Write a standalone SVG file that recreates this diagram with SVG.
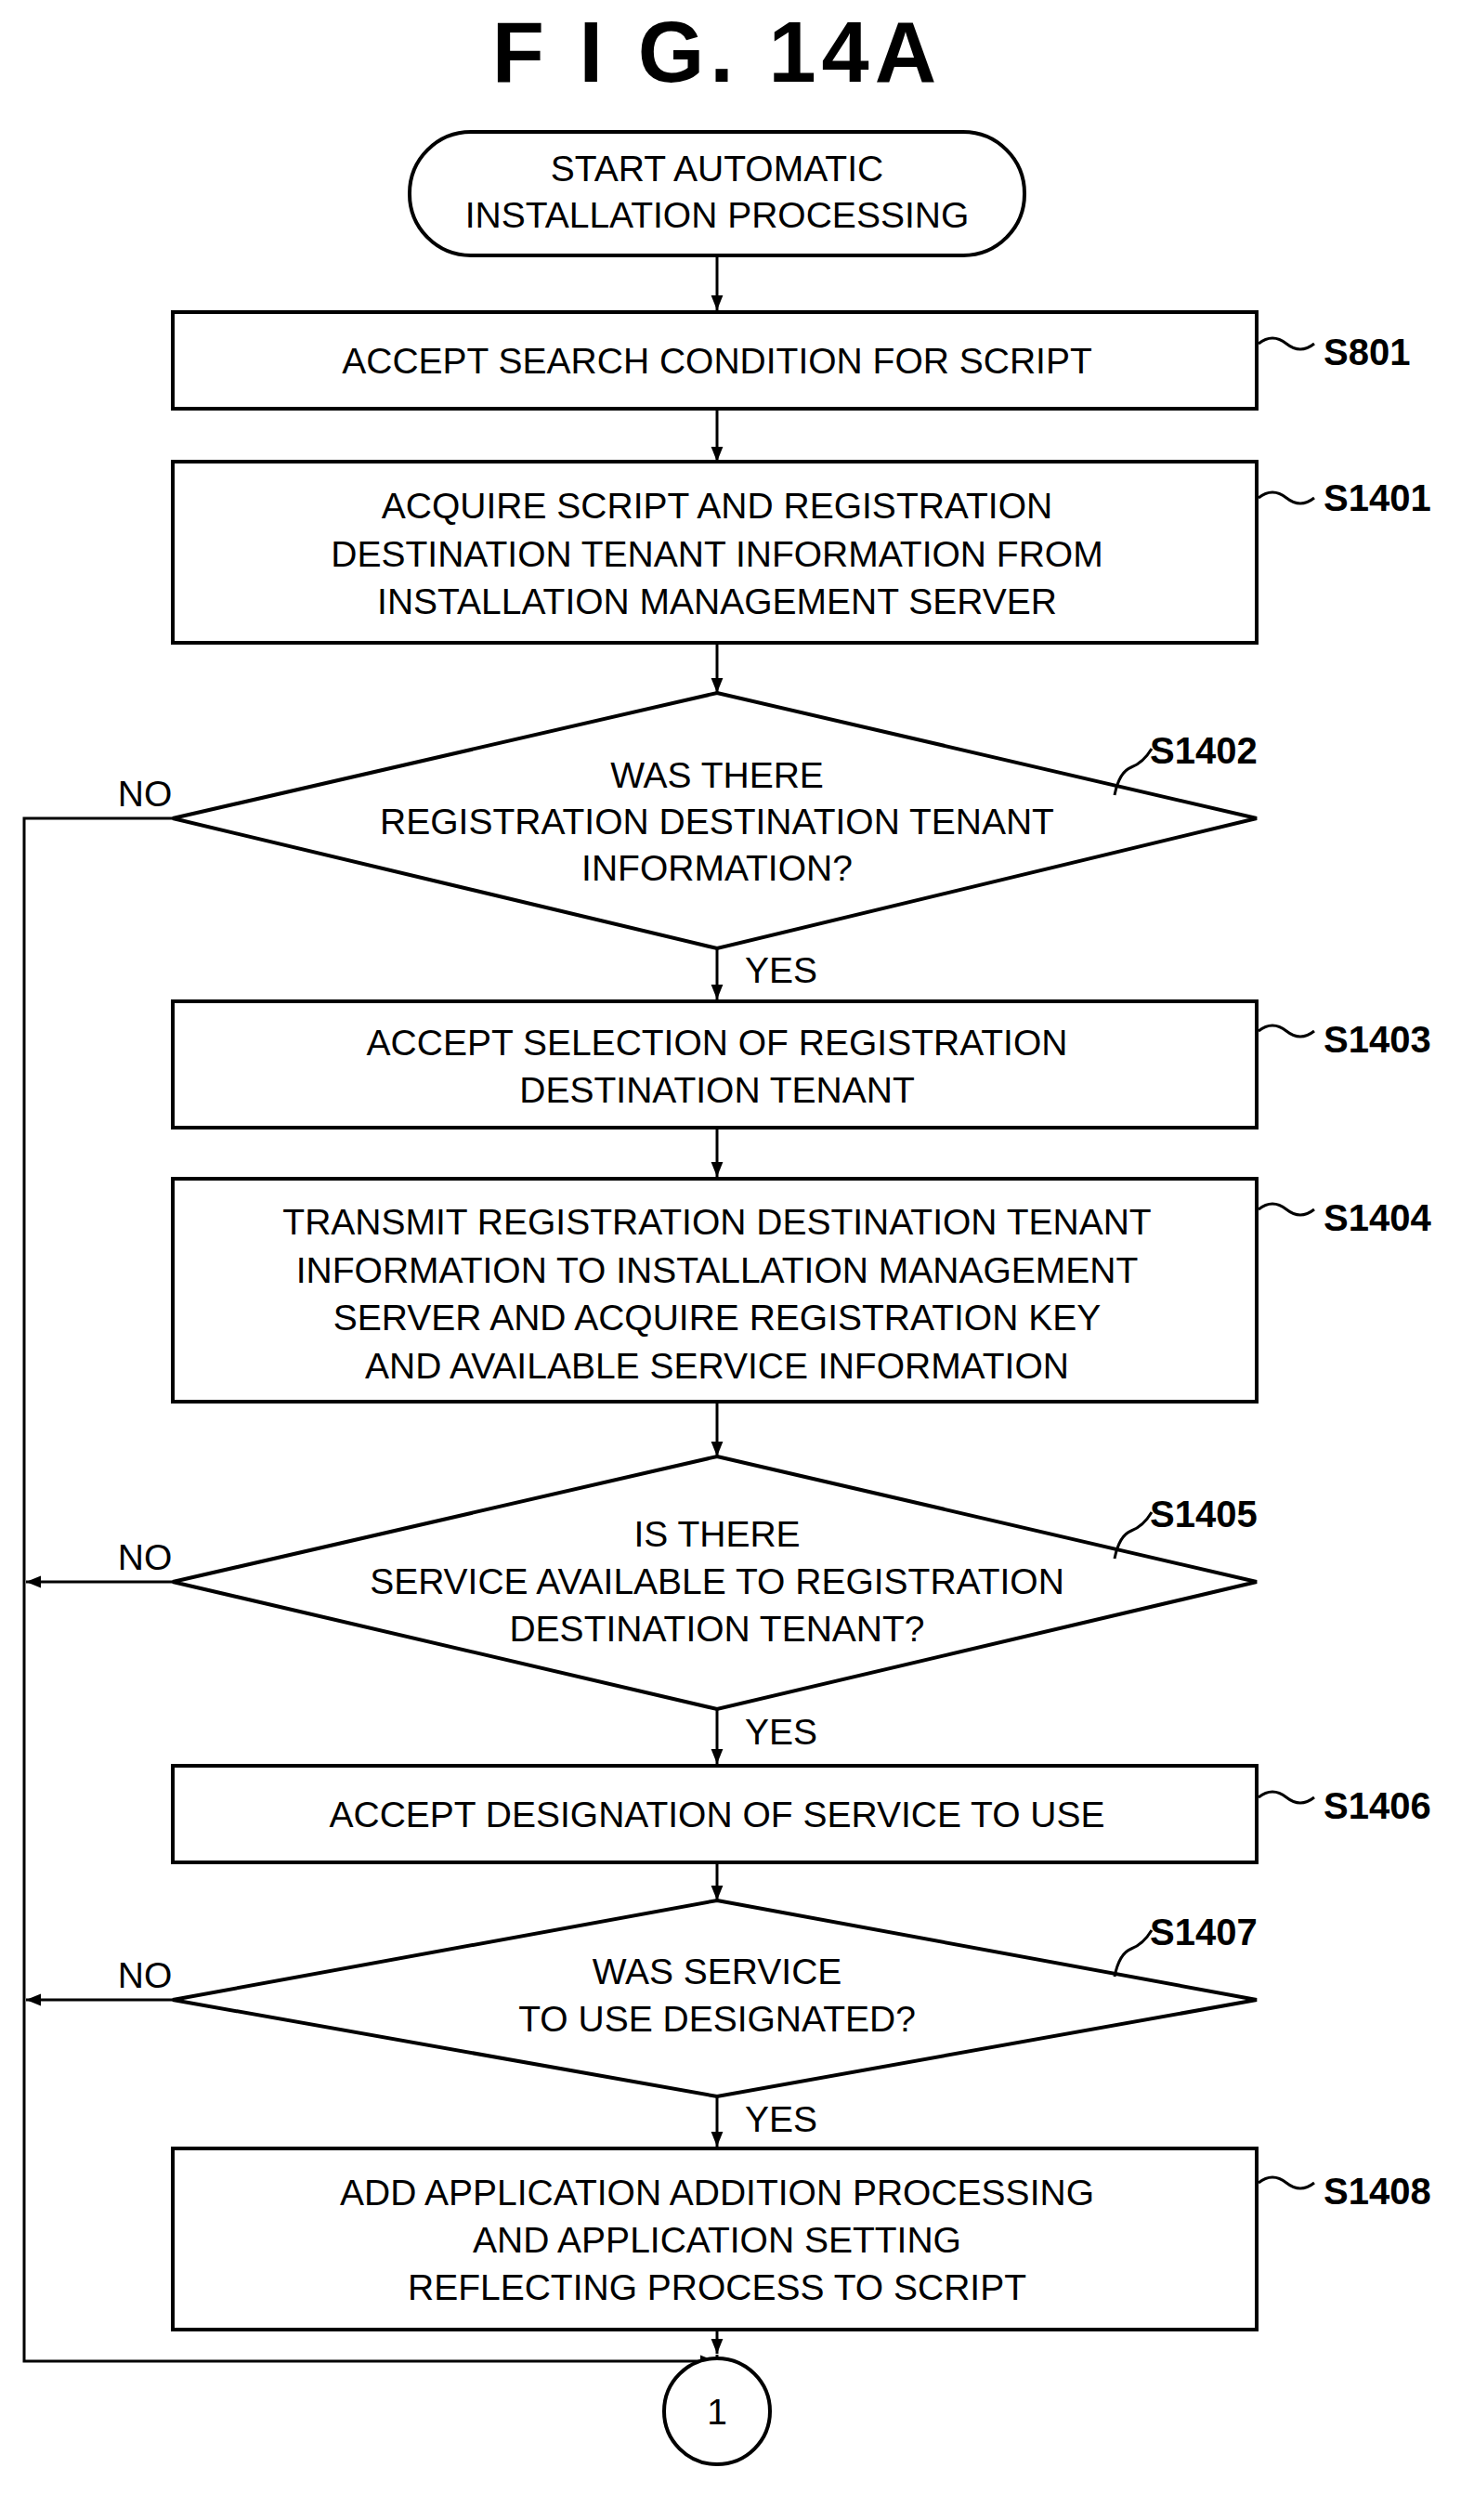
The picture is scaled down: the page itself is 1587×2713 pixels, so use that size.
<svg xmlns="http://www.w3.org/2000/svg" width="1587" height="2713" viewBox="0 0 1587 2713">
<style>
.s{fill:#fff;stroke:#000;stroke-width:4}
.t{font-family:"Liberation Sans",Arial,sans-serif;font-size:39px;text-anchor:middle;fill:#000}
.l{font-family:"Liberation Sans",Arial,sans-serif;font-size:40px;font-weight:bold;fill:#000}
.c{fill:none;stroke:#000;stroke-width:3}
</style>
<defs>
<marker id="m" viewBox="0 0 10 10" refX="10" refY="5" markerWidth="16" markerHeight="16" orient="auto" markerUnits="userSpaceOnUse"><path d="M0,1 L10,5 L0,9 z" fill="#000"/></marker>
</defs>
<rect width="1587" height="2713" fill="#fff"/>
<text x="772" y="88" font-family="Liberation Sans,Arial,sans-serif" font-size="92" font-weight="bold" text-anchor="middle" letter-spacing="6">F I G. 14A</text>

<g id="connectors" class="c">
<line x1="772" y1="275" x2="772" y2="334" marker-end="url(#m)"/>
<line x1="772" y1="440" x2="772" y2="497" marker-end="url(#m)"/>
<line x1="772" y1="692" x2="772" y2="746" marker-end="url(#m)"/>
<line x1="772" y1="1021" x2="772" y2="1076" marker-end="url(#m)"/>
<line x1="772" y1="1214" x2="772" y2="1267" marker-end="url(#m)"/>
<line x1="772" y1="1509" x2="772" y2="1568" marker-end="url(#m)"/>
<line x1="772" y1="1840" x2="772" y2="1899" marker-end="url(#m)"/>
<line x1="772" y1="2005" x2="772" y2="2046" marker-end="url(#m)"/>
<line x1="772" y1="2257" x2="772" y2="2311" marker-end="url(#m)"/>
<line x1="772" y1="2508" x2="772" y2="2534" marker-end="url(#m)"/>
<polyline points="186,881 26,881 26,2542 770,2542" marker-end="url(#m)"/>
<line x1="186" y1="1703" x2="28" y2="1703" marker-end="url(#m)"/>
<line x1="186" y1="2153" x2="28" y2="2153" marker-end="url(#m)"/>
<text class="t" x="156" y="868" stroke="none">NO</text>
<text class="t" x="156" y="1690" stroke="none">NO</text>
<text class="t" x="156" y="2140" stroke="none">NO</text>
<text class="t" x="841" y="1058" stroke="none">YES</text>
<text class="t" x="841" y="1878" stroke="none">YES</text>
<text class="t" x="841" y="2295" stroke="none">YES</text>
</g>

<g id="start">
<rect class="s" x="441" y="142" width="662" height="133" rx="66"/>
<text class="t" x="772" y="195">START AUTOMATIC</text>
<text class="t" x="772" y="245">INSTALLATION PROCESSING</text>
</g>

<g id="S801">
<rect class="s" x="186" y="336" width="1167" height="104"/>
<text class="t" x="772" y="402">ACCEPT SEARCH CONDITION FOR SCRIPT</text>
<path class="c" d="M1355,370 q15,-12 30,0 t30,0"/>
<text class="l" x="1425" y="393">S801</text>
</g>

<g id="S1401">
<rect class="s" x="186" y="497" width="1167" height="195"/>
<text class="t" x="772" y="558">ACQUIRE SCRIPT AND REGISTRATION</text>
<text class="t" x="772" y="610">DESTINATION TENANT INFORMATION FROM</text>
<text class="t" x="772" y="661">INSTALLATION MANAGEMENT SERVER</text>
<path class="c" d="M1355,536 q15,-12 30,0 t30,0"/>
<text class="l" x="1425" y="550">S1401</text>
</g>

<g id="S1402">
<polygon class="s" points="772,746 1353,881 772,1021 186,881"/>
<text class="t" x="772" y="848">WAS THERE</text>
<text class="t" x="772" y="898">REGISTRATION DESTINATION TENANT</text>
<text class="t" x="772" y="948">INFORMATION?</text>
<path class="c" d="M1200,856 q5,-25 18,-30 t22,-20"/>
<text class="l" x="1238" y="822">S1402</text>
</g>

<g id="S1403">
<rect class="s" x="186" y="1078" width="1167" height="136"/>
<text class="t" x="772" y="1136">ACCEPT SELECTION OF REGISTRATION</text>
<text class="t" x="772" y="1187">DESTINATION TENANT</text>
<path class="c" d="M1355,1110 q15,-12 30,0 t30,0"/>
<text class="l" x="1425" y="1133">S1403</text>
</g>

<g id="S1404">
<rect class="s" x="186" y="1269" width="1167" height="240"/>
<text class="t" x="772" y="1329">TRANSMIT REGISTRATION DESTINATION TENANT</text>
<text class="t" x="772" y="1381">INFORMATION TO INSTALLATION MANAGEMENT</text>
<text class="t" x="772" y="1432">SERVER AND ACQUIRE REGISTRATION KEY</text>
<text class="t" x="772" y="1484">AND AVAILABLE SERVICE INFORMATION</text>
<path class="c" d="M1355,1302 q15,-12 30,0 t30,0"/>
<text class="l" x="1425" y="1325">S1404</text>
</g>

<g id="S1405">
<polygon class="s" points="772,1568 1353,1703 772,1840 186,1703"/>
<text class="t" x="772" y="1665">IS THERE</text>
<text class="t" x="772" y="1716">SERVICE AVAILABLE TO REGISTRATION</text>
<text class="t" x="772" y="1767">DESTINATION TENANT?</text>
<path class="c" d="M1200,1678 q5,-25 18,-30 t22,-20"/>
<text class="l" x="1238" y="1644">S1405</text>
</g>

<g id="S1406">
<rect class="s" x="186" y="1901" width="1167" height="104"/>
<text class="t" x="772" y="1967">ACCEPT DESIGNATION OF SERVICE TO USE</text>
<path class="c" d="M1355,1935 q15,-12 30,0 t30,0"/>
<text class="l" x="1425" y="1958">S1406</text>
</g>

<g id="S1407">
<polygon class="s" points="772,2046 1353,2153 772,2257 186,2153"/>
<text class="t" x="772" y="2136">WAS SERVICE</text>
<text class="t" x="772" y="2187">TO USE DESIGNATED?</text>
<path class="c" d="M1200,2128 q5,-25 18,-30 t22,-20"/>
<text class="l" x="1238" y="2094">S1407</text>
</g>

<g id="S1408">
<rect class="s" x="186" y="2313" width="1167" height="195"/>
<text class="t" x="772" y="2374">ADD APPLICATION ADDITION PROCESSING</text>
<text class="t" x="772" y="2425">AND APPLICATION SETTING</text>
<text class="t" x="772" y="2476">REFLECTING PROCESS TO SCRIPT</text>
<path class="c" d="M1355,2350 q15,-12 30,0 t30,0"/>
<text class="l" x="1425" y="2373">S1408</text>
</g>

<g connector="" id="connector1">
<line class="c" x1="772" y1="2542" x2="772" y2="2535" marker-end="url(#m)"/>
<ellipse class="s" cx="772" cy="2596" rx="57" ry="57"/>
<text class="t" x="772" y="2610">1</text>
</g>
</svg>
